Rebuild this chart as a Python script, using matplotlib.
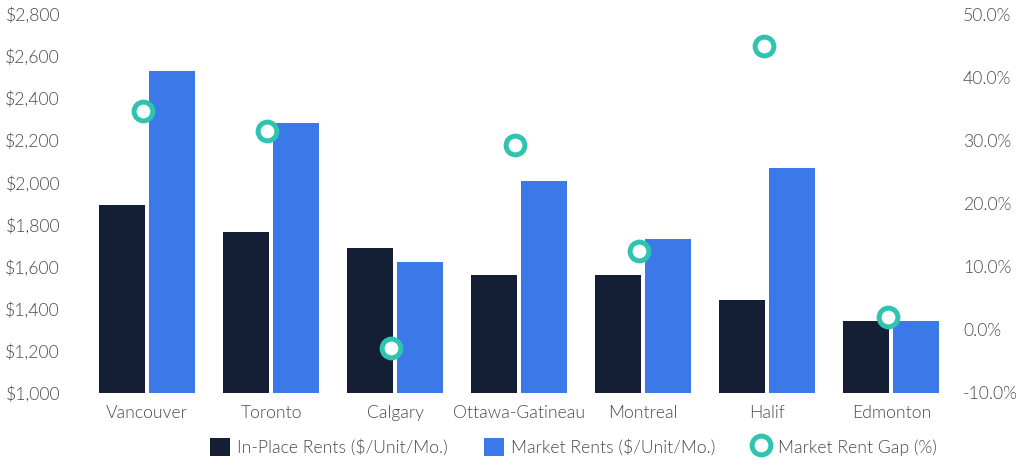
import matplotlib.pyplot as plt
import numpy as np
from matplotlib.lines import Line2D
from matplotlib.patches import Patch
from matplotlib.ticker import FuncFormatter

cities = ["Vancouver", "Toronto", "Calgary", "Ottawa-Gatineau", "Montreal", "Halif", "Edmonton"]
in_place_rents = [1895, 1765, 1690, 1560, 1560, 1442, 1342]
market_rents = [2530, 2280, 1622, 2008, 1732, 2070, 1342]
rent_gap = [34.6, 31.4, -2.9, 29.2, 12.4, 45.0, 2.1]

NAVY = "#141f35"
BLUE = "#3b78e8"
TEAL = "#2ec4b0"
TEXT = "#4a4a4a"

plt.rcParams["font.family"] = ["Lato", "DejaVu Sans"]
plt.rcParams["font.weight"] = 300

fig = plt.figure(figsize=(10.24, 4.67), dpi=100)
ax = fig.add_axes([0.083, 0.1585, 0.848, 0.8115])
ax2 = ax.twinx()

x = np.arange(len(cities))
w = 0.372
gap = 0.03
ax.bar(x - (w + gap) / 2, in_place_rents, width=w, color=NAVY)
ax.bar(x + (w + gap) / 2, market_rents, width=w, color=BLUE)

ax2.plot(x - 0.03, rent_gap, linestyle="none", marker="o", markersize=13.5,
         markerfacecolor="white", markeredgecolor=TEAL, markeredgewidth=3.6)

ax.set_xlim(-0.5, len(cities) - 0.5)
ax.set_ylim(1000, 2800)
ax.set_yticks(range(1000, 2801, 200))
ax.yaxis.set_major_formatter(FuncFormatter(lambda v, _: f"${v:,.0f}"))
ax2.set_ylim(-10, 50)
ax2.set_yticks(range(-10, 51, 10))
ax2.yaxis.set_major_formatter(FuncFormatter(lambda v, _: f"{v:.1f}%"))

ax.set_xticks(x)
ax.set_xticklabels(cities)

for a in (ax, ax2):
    for s in a.spines.values():
        s.set_visible(False)
    a.tick_params(length=0, labelsize=12.7, colors=TEXT)
ax.tick_params(axis="x", pad=8.5)
ax.tick_params(axis="y", pad=18)
ax2.tick_params(axis="y", pad=7)

handles = [
    Patch(facecolor=NAVY, label="In-Place Rents ($/Unit/Mo.)"),
    Patch(facecolor=BLUE, label="Market Rents ($/Unit/Mo.)"),
    Line2D([], [], linestyle="none", marker="o", markersize=13.5, markerfacecolor="white",
           markeredgecolor=TEAL, markeredgewidth=3.6, label="Market Rent Gap (%)"),
]
leg = fig.legend(handles=handles, loc="lower center", bbox_to_anchor=(0.56, -0.01), ncol=3,
                 frameon=False, fontsize=12.7, handlelength=1.15, handleheight=1.15,
                 handletextpad=0.4, columnspacing=2.0)
for t in leg.get_texts():
    t.set_color(TEXT)

fig.savefig("out.png", dpi=100)
